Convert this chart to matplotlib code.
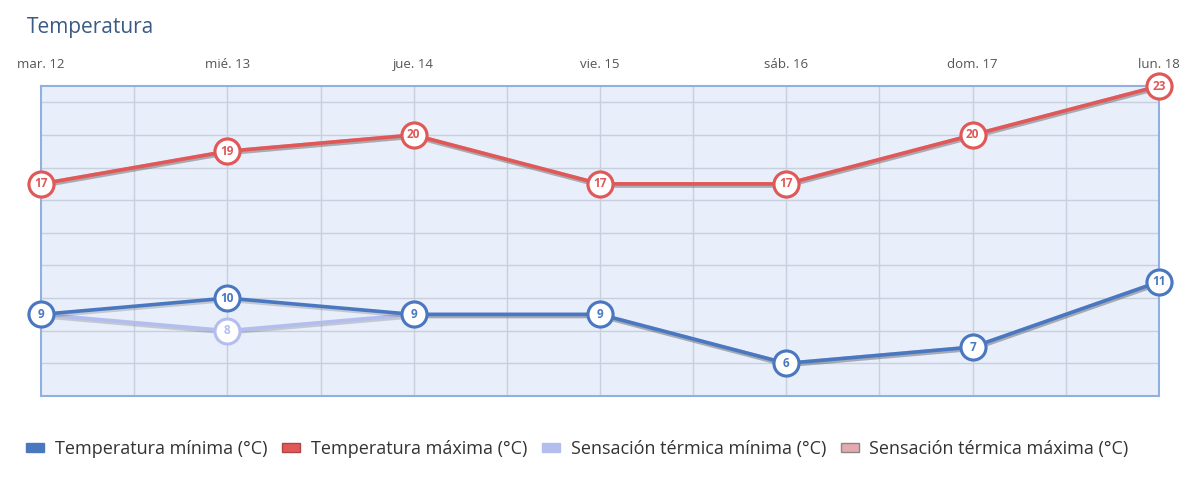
import matplotlib
matplotlib.use("Agg")
import matplotlib.pyplot as plt
import matplotlib.patheffects as pe
from matplotlib.patches import Patch

plt.rcParams['font.family'] = ['Open Sans', 'DejaVu Sans']

days = ["mar. 12", "mié. 13", "jue. 14", "vie. 15", "sáb. 16", "dom. 17", "lun. 18"]
temp_min = [9, 10, 9, 9, 6, 7, 11]
temp_max = [17, 19, 20, 17, 17, 20, 23]
sens_min = [9, 8, 9, 9, 6, 7, 11]
sens_max = [17, 19, 20, 17, 17, 20, 23]
series_names = ["Temperatura mínima (°C)", "Temperatura máxima (°C)",
                "Sensación térmica mínima (°C)", "Sensación térmica máxima (°C)"]

c_min = "#4a78c0"
c_max = "#e05858"
c_smin = "#b3bdee"
c_smax = "#e6a9b0"

W, H = 1200, 497
fig = plt.figure(figsize=(W / 100, H / 100), dpi=100)
ax = fig.add_axes([41 / W, 1 - 396 / H, (1159 - 41) / W, (396 - 86) / H])
ax.set_facecolor("#e8effa")
x = list(range(len(days)))
ax.set_xlim(0, len(days) - 1)
ax.set_ylim(4, 23)

# grid
for v in [i * 0.5 for i in range(1, 2 * (len(days) - 1))]:
    ax.axvline(v, color="#c8d0de", lw=1, zorder=1)
for v in range(6, 23, 2):
    ax.axhline(v, color="#c8d0de", lw=1, zorder=1)
for s in ax.spines.values():
    s.set_color("#8fb0e0")
    s.set_linewidth(1.5)

ax.set_yticks([])
ax.xaxis.tick_top()
ax.set_xticks(x)
ax.set_xticklabels(days, fontsize=9.5, color="#555555")
ax.tick_params(axis="x", length=0, pad=11)

shadow = [pe.SimpleLineShadow(offset=(0.5, -1.5), shadow_color="#555555", alpha=0.25), pe.Normal()]


def draw(vals, color, z, text_color):
    ax.plot(x, vals, color=color, lw=2.6, zorder=z, clip_on=False, path_effects=shadow)
    ax.plot(x, vals, 'o', ms=18, mfc="white", mec=color, mew=2.2, zorder=z + 0.5, clip_on=False)
    for xi, v in zip(x, vals):
        ax.text(xi, v, str(v), ha="center", va="center", fontsize=8.5, fontweight="bold",
                color=text_color, zorder=z + 0.6, clip_on=False)


draw(sens_max, c_smax, 3, c_smax)
draw(sens_min, c_smin, 3, c_smin)
draw(temp_max, c_max, 5, c_max)
draw(temp_min, c_min, 5, c_min)

fig.text(27 / W, 1 - 27 / H, "Temperatura", fontsize=15, color="#3b5b84", va="center", ha="left")

handles = [
    Patch(facecolor=c_min, edgecolor=c_min),
    Patch(facecolor=c_max, edgecolor="#b04545"),
    Patch(facecolor=c_smin, edgecolor=c_smin),
    Patch(facecolor=c_smax, edgecolor="#888888"),
]
fig.legend(handles, series_names, loc="center left", bbox_to_anchor=(10 / W, 1 - 449 / H),
           ncol=4, frameon=False, fontsize=13.0, handlelength=1.0, handleheight=0.42,
           handletextpad=0.6, columnspacing=0.8, labelcolor="#333333")

fig.savefig("out.png", dpi=100)
